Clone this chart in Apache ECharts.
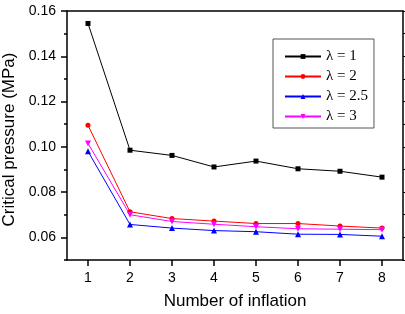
<!DOCTYPE html>
<html>
<head>
<meta charset="utf-8">
<script src="https://cdn.jsdelivr.net/npm/echarts@6/dist/echarts.min.js"></script>
<style>
html,body{margin:0;padding:0;background:#fff;}
#chart{width:405px;height:314px;}
</style>
</head>
<body>
<div id="chart"></div>
<script>
// ---- data ----
var inflation = ['1', '2', '3', '4', '5', '6', '7', '8'];
var lambda1  = [0.1545, 0.0985, 0.0962, 0.0911, 0.0937, 0.0903, 0.0892, 0.0866];
var lambda2  = [0.1095, 0.0713, 0.0683, 0.0672, 0.0661, 0.0661, 0.0650, 0.0641];
var lambda25 = [0.0980, 0.0657, 0.0641, 0.0630, 0.0625, 0.0614, 0.0613, 0.0605];
var lambda3  = [0.1015, 0.0700, 0.0670, 0.0658, 0.0647, 0.0638, 0.0636, 0.0634];
var seriesNames = ['\u03bb = 1', '\u03bb = 2', '\u03bb = 2.5', '\u03bb = 3'];
var yMajorTicks = [0.06, 0.08, 0.10, 0.12, 0.14, 0.16];
var yMinorTicks = [0.05, 0.07, 0.09, 0.11, 0.13, 0.15];
var yAllTicks = [0.05, 0.06, 0.07, 0.08, 0.09, 0.10, 0.11, 0.12, 0.13, 0.14, 0.15, 0.16];

var chart = echarts.init(document.getElementById('chart'));
var font = 'Liberation Sans, Arial, sans-serif';
var axisLine = {show: true, lineStyle: {color: '#000', width: 1.5}};

function mkSeries(name, data, color, symbol, rotate, size) {
  return {
    name: name, type: 'line', data: data,
    xAxisIndex: 0, yAxisIndex: 0,
    symbol: symbol, symbolSize: size, symbolRotate: rotate,
    showSymbol: true,
    lineStyle: {color: color, width: 1},
    itemStyle: {color: color, borderWidth: 0},
    emphasis: {disabled: true},
    animation: false
  };
}

chart.setOption({
  animation: false,
  grid: {left: 67, right: 2, top: 11, bottom: 54, containLabel: false, outerBoundsMode: 'none'},
  legend: {
    left: 273, top: 39, orient: 'vertical',
    data: seriesNames,
    itemWidth: 36, itemHeight: 6, itemGap: 5,
    padding: [10, 6, 4, 11],
    borderColor: '#555', borderWidth: 1,
    textStyle: {fontFamily: 'Liberation Serif, Times New Roman, serif', fontSize: 15, color: '#000'}
  },
  xAxis: [{
    type: 'category', data: inflation, boundaryGap: true, position: 'bottom',
    name: 'Number of inflation', nameLocation: 'middle', nameGap: 33,
    nameTextStyle: {fontFamily: font, fontSize: 17, color: '#000'},
    axisLine: axisLine,
    axisTick: {show: true, alignWithLabel: true, length: 6, inside: false, lineStyle: {color: '#000', width: 1.5}},
    axisLabel: {fontFamily: font, fontSize: 14, color: '#000', margin: 11},
    splitLine: {show: false}
  }, {
    type: 'category', data: inflation, boundaryGap: true, position: 'top',
    axisLine: axisLine, axisTick: {show: false}, axisLabel: {show: false}, splitLine: {show: false}
  }],
  yAxis: [{
    type: 'value', min: 0.05, max: 0.16, position: 'left',
    name: 'Critical pressure (MPa)', nameLocation: 'middle', nameGap: 44,
    nameTextStyle: {fontFamily: font, fontSize: 17, color: '#000', padding: [0, 8, 0, 0]},
    axisLine: axisLine,
    axisTick: {show: true, length: 6, customValues: yMajorTicks, lineStyle: {color: '#000', width: 1.5}},
    axisLabel: {fontFamily: font, fontSize: 14, color: '#000', margin: 11, customValues: yMajorTicks,
      formatter: function (v) { return v.toFixed(2); }},
    splitLine: {show: false}
  }, {
    type: 'value', min: 0.05, max: 0.16, position: 'left', offset: 0,
    axisLine: {show: false},
    axisTick: {show: true, length: 3, customValues: yMinorTicks, lineStyle: {color: '#000', width: 1.5}},
    axisLabel: {show: false}, splitLine: {show: false}
  }, {
    type: 'value', min: 0.05, max: 0.16, position: 'right',
    axisLine: axisLine,
    axisTick: {show: true, length: 3, customValues: yAllTicks, lineStyle: {color: '#000', width: 1}},
    axisLabel: {show: false}, splitLine: {show: false}
  }],
  series: [
    mkSeries(seriesNames[0], lambda1, '#000000', 'rect', 0, 5),
    mkSeries(seriesNames[1], lambda2, '#ff0000', 'circle', 0, 5),
    mkSeries(seriesNames[2], lambda25, '#0000ff', 'triangle', 0, 6),
    mkSeries(seriesNames[3], lambda3, '#ff00ff', 'triangle', 180, 6)
  ]
});
</script>
</body>
</html>
